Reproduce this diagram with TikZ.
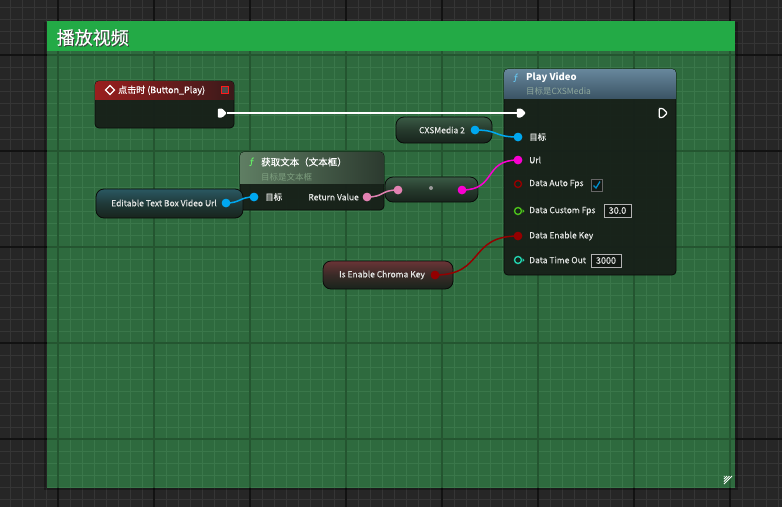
\documentclass[tikz,border=0pt]{standalone}
\usepackage{fontspec}
\setmainfont{Noto Sans CJK SC}
\newfontfamily\lblfont[FakeBold=0.35]{Noto Sans CJK SC}
\usetikzlibrary{shapes.symbols}
\definecolor{bgc}{HTML}{262626}
\definecolor{gminor}{HTML}{353535}
\definecolor{gmajor}{HTML}{121212}
\definecolor{cbody}{HTML}{2E6A3E}
\definecolor{cminor}{HTML}{3A774A}
\definecolor{cmajor}{HTML}{245530}
\definecolor{chead}{HTML}{23AA46}
\definecolor{nbody}{HTML}{172019}
\definecolor{nedge}{HTML}{0A0C0A}
\definecolor{lbltxt}{HTML}{E2E4E2}
\definecolor{subtxt}{HTML}{8FA89C}
\definecolor{objpin}{HTML}{00A8F0}
\definecolor{strpin}{HTML}{F800D0}
\definecolor{txtpin}{HTML}{E282B2}
\definecolor{boolpin}{HTML}{940000}
\definecolor{fltpin}{HTML}{4CC21A}
\definecolor{intpin}{HTML}{22D2AE}
\definecolor{pvhtop}{HTML}{67879C}
\definecolor{pvhbot}{HTML}{3C5566}
\definecolor{evhl}{HTML}{9A1E1E}
\definecolor{evhr}{HTML}{3A1A1A}
\definecolor{gthl}{HTML}{5F7E63}
\definecolor{gthr}{HTML}{2C3A2F}
\definecolor{gtsubc}{HTML}{7FA080}
\definecolor{pillbot}{HTML}{18241C}
\definecolor{pillgreen}{HTML}{3A5A45}
\definecolor{pillblue}{HTML}{2A5862}
\definecolor{pillred}{HTML}{6A3436}
\definecolor{valfill}{HTML}{121813}
\tikzset{
  lbl/.style={text=lbltxt, font=\lblfont\fontsize{8.5}{10}\selectfont, inner sep=0pt, anchor=west},
  ttl/.style={text=white, font=\bfseries\fontsize{9.5}{11}\selectfont, inner sep=0pt, anchor=west},
  sub/.style={text=subtxt, font=\fontsize{8.5}{10}\selectfont, inner sep=0pt, anchor=west},
  fico/.style={font=\itshape\fontsize{10}{11}\selectfont, inner sep=0pt},
  pinfill/.style={circle, inner sep=0pt, minimum size=8.5pt, fill=#1},
  pinhollow/.style={circle, inner sep=0pt, minimum size=7pt, draw=#1, line width=1.4pt},
  execpin/.style={signal, signal to=east, inner sep=0pt, minimum width=9pt, minimum height=9pt, rounded corners=1pt},
  wire/.style={line width=1.5pt, draw=#1},
  nodebody/.style={fill=nbody, fill opacity=0.95, draw=nedge, line width=0.8pt, rounded corners=4pt},
  varpill/.style={draw=nedge, line width=0.8pt, rounded corners=8pt, top color=#1, bottom color=pillbot, middle color=pillbot!60!#1},
  valbox/.style={draw=white!70!black, fill=valfill, line width=0.7pt, inner sep=0pt, text=lbltxt, font=\lblfont\fontsize{9}{10}\selectfont, minimum height=13pt},
}
\begin{document}
\begin{tikzpicture}[x=1pt,y=-1pt]
\useasboundingbox (0,0) rectangle (782,507);
% background grid
\fill[bgc] (0,0) rectangle (782,507);
\foreach \x in {10,22,...,778} \draw[gminor, line width=1pt] (\x,0) -- (\x,507);
\foreach \y in {7,19,...,499} \draw[gminor, line width=1pt] (0,\y) -- (782,\y);
\foreach \x in {58,154,...,730} \draw[gmajor, line width=1.2pt] (\x,0) -- (\x,507);
\foreach \y in {55,151,...,439} \draw[gmajor, line width=1.2pt] (0,\y) -- (782,\y);
% comment box
\fill[black, opacity=0.3] (44,22) rectangle (738,490);
\begin{scope}
  \clip (47,21) rectangle (735,487);
  \fill[cbody] (47,21) rectangle (735,487);
  \foreach \x in {10,22,...,778} \draw[cminor, line width=1pt] (\x,0) -- (\x,507);
  \foreach \y in {7,19,...,499} \draw[cminor, line width=1pt] (0,\y) -- (782,\y);
  \foreach \x in {58,154,...,730} \draw[cmajor, line width=1.2pt] (\x,0) -- (\x,507);
  \foreach \y in {55,151,...,439} \draw[cmajor, line width=1.2pt] (0,\y) -- (782,\y);
\end{scope}
\fill[chead] (47,21) rectangle (735,51);
\node[anchor=west, inner sep=0pt, text=black!75, font=\lblfont\fontsize{18}{20}\selectfont] at (57.5,38.5) {播放视频};
\node[anchor=west, inner sep=0pt, text=white, font=\lblfont\fontsize{18}{20}\selectfont] (ctitle) at (56.5,37.5) {播放视频};
\foreach \d in {0,2.5,5,7.5} \draw[white, line width=0.8pt] (732-\d,476) -- (724,484-\d);

% ---------- event node ----------
\draw[nodebody] (95,81) rectangle (234,128);
\begin{scope}
  \clip[rounded corners=4pt] (95,81) rectangle (234,128);
  \shade[left color=evhl, right color=evhr] (95,81) rectangle (234,99);
\end{scope}
\draw[white, line width=1.2pt] (110,85.5) -- (114.5,90) -- (110,94.5) -- (105.5,90) -- cycle;
\node[ttl, font=\lblfont\fontsize{9}{11}\selectfont] (evtitle) at (118,90.5) {点击时 (Button\_Play)};
\draw[red!90!white, line width=1.2pt, fill=black!70] (221.5,86.5) rectangle (228.5,93.5);
\node[execpin, fill=white] (evexec) at (220,113) {};

% ---------- Play Video node ----------
\draw[nodebody] (504,69) rectangle (676,275);
\begin{scope}
  \clip[rounded corners=4pt] (504,69) rectangle (676,275);
  \shade[top color=pvhtop, bottom color=pvhbot] (504,69) rectangle (676,98);
\end{scope}
\node[fico, text=objpin!60!white] (pvf) at (516,78) {ƒ};
\node[ttl] (pvtitle) at (526,78) {Play Video};
\node[sub] (pvsub) at (526,91) {目标是CXSMedia};
\node[execpin, fill=white] (pvexecin) at (519,113) {};
\node[execpin, draw=white, line width=1.2pt, minimum width=8pt, minimum height=9pt] (pvexecout) at (661,113) {};
\node[pinfill=objpin] (pvtarget) at (518,137) {};
\node[lbl] (pvtargetl) at (529,137) {目标};
\node[pinfill=strpin] (pvurl) at (518,160) {};
\node[lbl] (pvurll) at (529,160) {Url};
\node[pinhollow=boolpin] (pvauto) at (518,184) {};
\node[lbl] (pvautol) at (529,184) {Data Auto Fps};
\draw[white!40!black, fill=valfill, line width=0.8pt] (591,179) rectangle (602,191);
\draw[objpin!85!black, line width=1.3pt] (593.5,185.5) -- (596,188) -- (600,181.5);
\node[pinhollow=fltpin] (pvcustom) at (518,211) {};
\fill[fltpin] (522.5,209) -- (524.5,211) -- (522.5,213) -- cycle;
\node[lbl] (pvcustoml) at (529,211) {Data Custom Fps};
\node[valbox, minimum width=27pt] (pvcustomv) at (617.5,210.5) {30.0};
\node[pinfill=boolpin] (pvkey) at (518,236) {};
\node[lbl] (pvkeyl) at (529,236) {Data Enable Key};
\node[pinhollow=intpin] (pvtime) at (518,260) {};
\fill[intpin] (522.5,258) -- (524.5,260) -- (522.5,262) -- cycle;
\node[lbl] (pvtimel) at (529,260) {Data Time Out};
\node[valbox, minimum width=30pt] (pvtimev) at (606,260.5) {3000};

% ---------- Get Text node ----------
\draw[nodebody] (240,152) rectangle (384,210);
\begin{scope}
  \clip[rounded corners=4pt] (240,152) rectangle (384,210);
  \shade[left color=gthl, right color=gthr] (240,152) rectangle (384,183);
\end{scope}
\node[fico, text=green!60!white] (gtf) at (252,162) {ƒ};
\node[ttl, font=\lblfont\fontsize{9.5}{11}\selectfont] (gttitle) at (261,162) {获取文本（文本框）};
\node[sub, text=gtsubc] (gtsub) at (261,177) {目标是文本框};
\node[pinfill=objpin] (gttarget) at (254,197) {};
\node[lbl] (gttargetl) at (265,197) {目标};
\node[pinfill=txtpin] (gtret) at (367,197) {};
\node[lbl, anchor=east] (gtretl) at (359,197) {Return Value};

% ---------- conversion node ----------
\path[varpill=pillgreen] (385,177) rectangle (478,202);
\node[pinfill=txtpin] (cvin) at (398,190) {};
\node[circle, fill=white!60!black, inner sep=0pt, minimum size=4pt] (cvmid) at (431,188) {};
\node[pinfill=strpin] (cvout) at (462,190) {};

% ---------- variable nodes ----------
\path[varpill=pillblue] (96,189) rectangle (243,218);
\node[lbl, anchor=center] (etbl) at (164,203) {Editable Text Box Video Url};
\node[pinfill=objpin] (etbpin) at (226,203) {};

\path[varpill=pillgreen] (396,117) rectangle (492,143);
\node[lbl, anchor=center] (cxsl) at (442,130) {CXSMedia 2};
\node[pinfill=objpin] (cxspin) at (475,130) {};

\path[varpill=pillred] (323,261) rectangle (453,289);
\node[lbl, anchor=center] (iecl) at (382,275) {Is Enable Chroma Key};
\node[pinfill=boolpin] (iecpin) at (435,275) {};

% ---------- wires ----------
\draw[wire=white, line width=2pt] (evexec.east) -- (pvexecin.west);
\draw[wire=objpin] (cxspin.center) .. controls +(25,0) and +(-25,0) .. (pvtarget.center);
\draw[wire=objpin] (etbpin.center) .. controls +(15,0) and +(-15,0) .. (gttarget.center);
\draw[wire=txtpin] (gtret.center) .. controls +(18,0) and +(-18,0) .. (cvin.center);
\draw[wire=strpin] (cvout.center) .. controls +(35,0) and +(-35,0) .. (pvurl.center);
\draw[wire=boolpin] (iecpin.center) .. controls +(50,0) and +(-50,0) .. (pvkey.center);
% redraw pins over wires
\node[pinfill=objpin] at (pvtarget) {};
\node[pinfill=strpin] at (pvurl) {};
\node[pinfill=boolpin] at (pvkey) {};
\node[pinfill=objpin] at (gttarget) {};
\node[pinfill=txtpin] at (gtret) {};
\node[pinfill=txtpin] at (cvin) {};
\node[pinfill=strpin] at (cvout) {};
\node[pinfill=objpin] at (etbpin) {};
\node[pinfill=objpin] at (cxspin) {};
\node[pinfill=boolpin] at (iecpin) {};
\end{tikzpicture}
\end{document}
